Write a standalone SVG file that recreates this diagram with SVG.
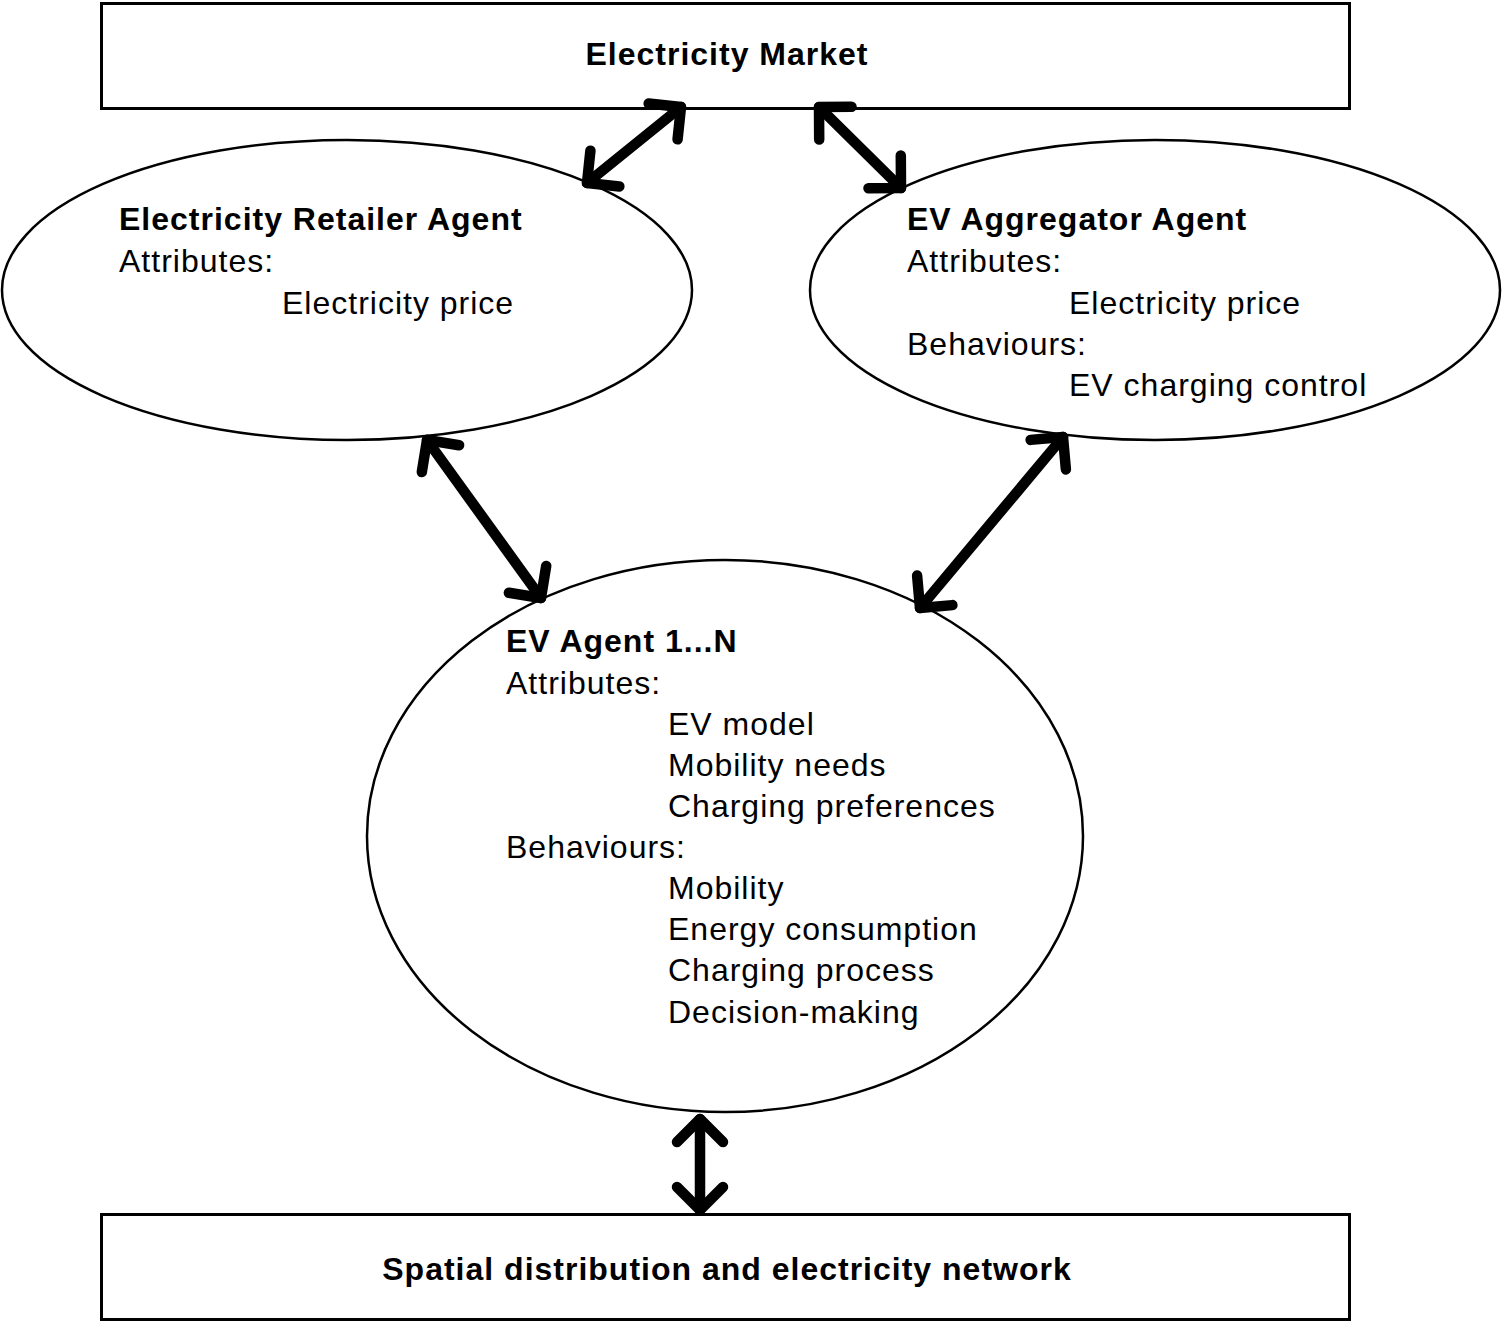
<svg xmlns="http://www.w3.org/2000/svg" width="1502" height="1322" viewBox="0 0 1502 1322">
<style>
text{font-family:"Liberation Sans",Arial,sans-serif;font-size:32px;fill:#000;letter-spacing:1px}
.b{font-weight:bold}
.m{text-anchor:middle}
.box{fill:#fff;stroke:#000;stroke-width:3}
.ell{fill:#fff;stroke:#000;stroke-width:2.5}
.arr{stroke:#000;stroke-width:10.5;stroke-linecap:round;fill:none;marker-start:url(#ah);marker-end:url(#ah)}
</style>
<defs>
<marker id="ah" markerUnits="userSpaceOnUse" orient="auto-start-reverse" overflow="visible" markerWidth="60" markerHeight="60" refX="0" refY="0">
<path d="M-23,-23 L0,0 L-23,23" fill="none" stroke="#000" stroke-width="10.5" stroke-linecap="round" stroke-linejoin="round"/>
</marker>
</defs>
<rect width="1502" height="1322" fill="#fff"/>
<g id="market">
<rect class="box" x="101.5" y="3.5" width="1248" height="105"/>
<text class="b m" x="727" y="65">Electricity Market</text>
</g>
<g id="network">
<rect class="box" x="101.5" y="1214.5" width="1248" height="105"/>
<text class="b m" x="727" y="1280">Spatial distribution and electricity network</text>
</g>
<g id="retailer">
<ellipse class="ell" cx="347" cy="290" rx="345" ry="150"/>
<text class="b" x="119" y="230">Electricity Retailer Agent</text>
<text x="119" y="272">Attributes:</text>
<text x="282" y="314">Electricity price</text>
</g>
<g id="aggregator">
<ellipse class="ell" cx="1155" cy="290" rx="345" ry="150"/>
<text class="b" x="907" y="230">EV Aggregator Agent</text>
<text x="907" y="272">Attributes:</text>
<text x="1069" y="314">Electricity price</text>
<text x="907" y="355">Behaviours:</text>
<text x="1069" y="396">EV charging control</text>
</g>
<g id="ev-agent">
<ellipse class="ell" cx="725" cy="836" rx="358" ry="276"/>
<text class="b" x="506" y="652">EV Agent 1...N</text>
<text x="506" y="694">Attributes:</text>
<text x="668" y="735">EV model</text>
<text x="668" y="776">Mobility needs</text>
<text x="668" y="817">Charging preferences</text>
<text x="506" y="858">Behaviours:</text>
<text x="668" y="899">Mobility</text>
<text x="668" y="940">Energy consumption</text>
<text x="668" y="981">Charging process</text>
<text x="668" y="1023">Decision-making</text>
</g>
<g id="connectors">
<line class="arr" x1="587" y1="183" x2="681" y2="107"/>
<line class="arr" x1="819" y1="107" x2="901" y2="188"/>
<line class="arr" x1="427" y1="440" x2="541" y2="598"/>
<line class="arr" x1="1063" y1="437" x2="920" y2="608"/>
<line class="arr" x1="700" y1="1119" x2="700" y2="1210"/>
</g>
</svg>
